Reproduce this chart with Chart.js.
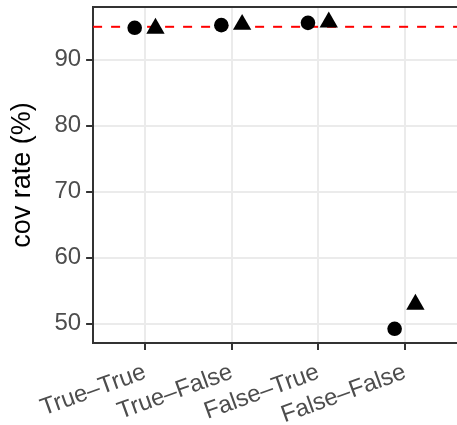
<!DOCTYPE html>
<html><head><meta charset="utf-8">
<script src="https://cdn.jsdelivr.net/npm/chart.js@4/dist/chart.umd.min.js"></script>
<style>html,body{margin:0;padding:0;background:#fff}#wrap{width:457px;height:425px}</style>
</head><body><div id="wrap"><canvas id="c" width="457" height="425"></canvas></div>
<script>
const categories = ["True–True", "True–False", "False–True", "False–False"];
const circleValues = [94.85, 95.25, 95.6, 49.25];
const triangleValues = [94.75, 95.35, 95.7, 52.95];
const yTicks = [50, 60, 70, 80, 90];
const refLine = 95;
const dodge = 0.12;

const circleData = categories.map((c, i) => ({x: i + 1 - dodge, y: circleValues[i]}));
const triData = categories.map((c, i) => ({x: i + 1 + dodge, y: triangleValues[i]}));
const lineData = [{x: 0.4, y: refLine}, {x: 4.6, y: refLine}];

const topBorder = {
  id: 'topBorder',
  afterDraw(chart) {
    const a = chart.chartArea, ctx = chart.ctx;
    ctx.save();
    ctx.strokeStyle = '#333'; ctx.lineWidth = 2;
    ctx.beginPath(); ctx.moveTo(a.left - 1, a.top); ctx.lineTo(a.right, a.top); ctx.stroke();
    ctx.restore();
  }
};

new Chart(document.getElementById('c'), {
  type: 'scatter',
  plugins: [topBorder],
  data: { datasets: [
    { type: 'line', data: lineData, borderColor: '#ff0000', borderWidth: 2, borderDash: [9, 9], pointRadius: 0, order: 3 },
    { data: circleData, pointStyle: 'circle', pointRadius: 7.3, backgroundColor: '#000', borderColor: '#000', borderWidth: 0, order: 1 },
    { data: triData, pointStyle: 'triangle', pointRadius: 10.6, backgroundColor: '#000', borderColor: '#000', borderWidth: 0, order: 1 }
  ]},
  options: {
    responsive: false, animation: false, devicePixelRatio: 1,
    layout: { autoPadding: false, padding: { left: 6, top: 0, right: 0, bottom: 0 } },
    plugins: { legend: { display: false }, tooltip: { enabled: false } },
    scales: {
      x: {
        type: 'linear', min: 0.4, max: 4.6,
        afterBuildTicks: s => { s.ticks = categories.map((c, i) => ({value: i + 1})); },
        afterFit: s => { s.height = 82; },
        ticks: { callback: v => categories[Math.round(v) - 1], color: '#4d4d4d', font: { family: 'Liberation Sans', size: 24 }, minRotation: 20, maxRotation: 20, padding: 8 },
        grid: { color: '#ebebeb', lineWidth: 2, tickColor: '#333', tickLength: 7 },
        border: { display: true, color: '#333', width: 2 }
      },
      y: {
        min: 47.1, max: 98,
        afterBuildTicks: s => { s.ticks = yTicks.map(v => ({value: v})); },
        afterFit: s => { s.paddingTop = 7; s.paddingBottom = 0; },
        ticks: { color: '#4d4d4d', font: { family: 'Liberation Sans', size: 24 }, padding: 5 },
        grid: { color: '#ebebeb', lineWidth: 2, tickColor: '#333', tickLength: 7 },
        border: { display: true, color: '#333', width: 2 },
        title: { display: true, text: 'cov rate (%)', color: '#000', font: { family: 'Liberation Sans', size: 27 }, padding: { top: 0, bottom: 11 } }
      }
    }
  }
});
</script></body></html>
